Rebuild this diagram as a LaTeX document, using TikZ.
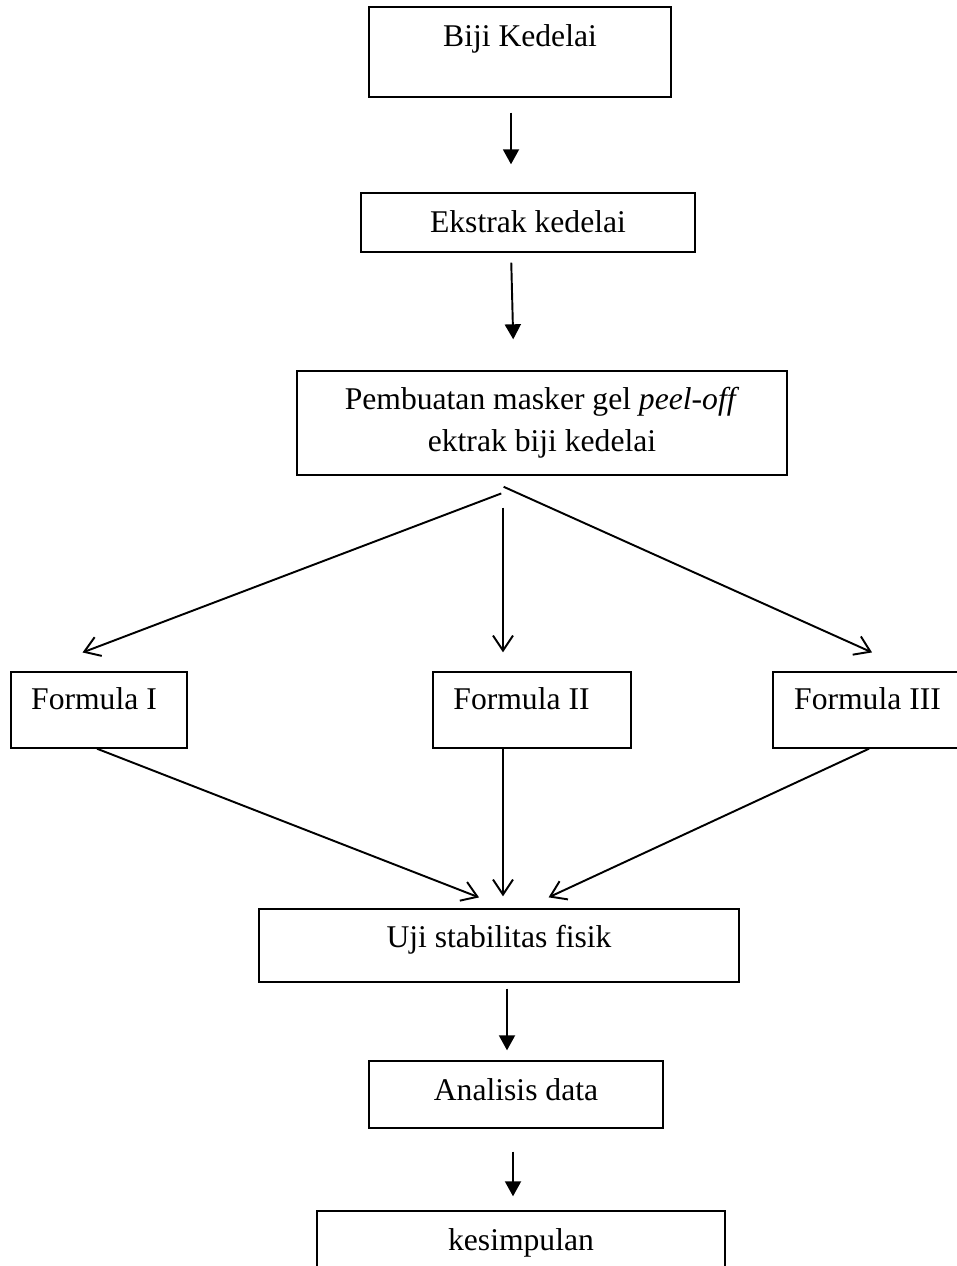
\documentclass[tikz,border=0pt]{standalone}
\usepackage{fontspec}
\setmainfont{Liberation Serif}
\usetikzlibrary{arrows.meta}
\newcommand{\px}{0.02cm}

\begin{document}
\begin{tikzpicture}[x=0.02cm, y=-0.02cm, font=\fontsize{18}{24}\selectfont]
	\tikzset{kotak/.style={draw, line width=0.8pt, inner sep=0pt, anchor=base}}
	\tikzset{penuh/.style={line width=1.1pt, -{Triangle[length=0.3cm, width=0.32cm]}}}
	\tikzset{buka/.style={line width=1.1pt, -{Straight Barb[length=0.3cm, width=0.4cm]}}}
	\useasboundingbox (0,0) rectangle (956,1266);

	\node[kotak, minimum width=302*\px, text height=40*\px, text depth=50*\px]	(biji)		at (520,47)		{Biji Kedelai};
	\node[kotak, minimum width=334*\px, text height=40*\px, text depth=19*\px]	(ekstrak)	at (528,233)	{Ekstrak kedelai};
	\node[kotak, anchor=center, minimum width=490*\px, minimum height=104*\px, align=center]
																				(masker)	at (542,423)	{Pembuatan masker gel \textit{peel-off}\\ ektrak biji kedelai};
	\node[kotak, minimum width=176*\px, text height=37*\px, text depth=39*\px]	(f1)		at (99,709)		{Formula I\hspace*{0.2cm}};
	\node[kotak, minimum width=198*\px, text height=37*\px, text depth=39*\px]	(f2)		at (532,709)	{Formula II\hspace*{0.42cm}};
	\node[kotak, minimum width=189*\px, text height=37*\px, text depth=39*\px]	(f3)		at (867.5,709)	{Formula III};
	\node[kotak, minimum width=480*\px, text height=38*\px, text depth=35*\px]	(uji)		at (499,947)	{Uji stabilitas fisik};
	\node[kotak, minimum width=294*\px, text height=39*\px, text depth=28*\px]	(analisis)	at (516,1100)	{Analisis data};
	\node[kotak, minimum width=408*\px, text height=39*\px, text depth=30*\px]	(simpul)	at (521,1250)	{kesimpulan};

	\path
		([xshift=-9*\px]biji.south)			edge[penuh, shorten <=15*\px, shorten >=28*\px]	([xshift=-17*\px]ekstrak.north)
		([xshift=-17*\px]ekstrak.south)		edge[penuh, shorten <=10*\px, shorten >=31*\px]	([xshift=-28*\px]masker.north)
		([xshift=6*\px]masker.south)		edge[buka, shorten <=50*\px, shorten >=53*\px]	([xshift=-66*\px]f1.north)
		([xshift=-39*\px]masker.south)		edge[buka, shorten <=32*\px, shorten >=19*\px]	([xshift=-29*\px]f2.north)
		([xshift=-63*\px]masker.south)		edge[buka, shorten <=27*\px, shorten >=46*\px]	([xshift=46.5*\px]f3.north)
		([xshift=-2*\px]f1.south)			edge[buka, shorten >=30*\px]					([xshift=8*\px]uji.north)
		([xshift=-29*\px]f2.south)			edge[buka, shorten >=12*\px]					([xshift=4*\px]uji.north)
		([xshift=1.5*\px]f3.south)			edge[buka, shorten >=26*\px]					([xshift=26*\px]uji.north)
		([xshift=8*\px]uji.south)			edge[penuh, shorten <=6*\px, shorten >=10*\px]	([xshift=-9*\px]analisis.north)
		([xshift=-3*\px]analisis.south)		edge[penuh, shorten <=23*\px, shorten >=14*\px]	([xshift=-8*\px]simpul.north)
		;
\end{tikzpicture}
\end{document}
